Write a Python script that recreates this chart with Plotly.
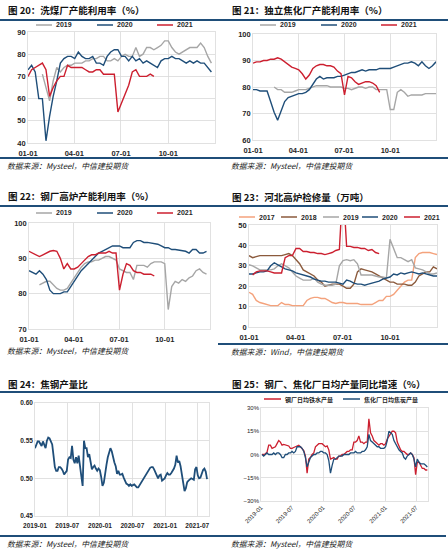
import pandas as pd
import plotly.graph_objects as go

W, H = 448, 550

# ------------------------------------------------------------------ data
# seasonal charts: weekly points placed on a common calendar year
season_weeks = pd.date_range("2021-01-01", periods=53, freq="7D")
season_tickvals = ["2021-01-01", "2021-04-01", "2021-07-01", "2021-10-01"]
season_ticktext = ["01-01", "04-01", "07-01", "10-01"]

# Fig 20 washing plant utilisation (%)
wash_2019 = [None] * 4 + [71, 65, 59, 68, 74, 72, 74, 75, 75, 76, 76, 76, 77, 77, 78, 78, 79, 79, 77, 77,
                          78, 77, 79, 80, 79, 79, 83, 79, 80, 83, 83, 82, 83, 84, 86, 86, 83, 81, 80, 81,
                          82, 83, 83, 83, 85, 83, 79, 76]
wash_2020 = [73, 75, 72, 60, 60, 41, 52, 61, 68, 76, 78, 79, 79, 78, 81, 79, 78, 78, 79, 76,
             76, 75, 79, 81, 82, 82, 79, 79, 77, 79, 77, 78, 76, 77, 76, 75, 74, 77, 78, 78,
             79, 78, 78, 77, 76, 77, 76, 77, 76, 76, 74, 72]
wash_2021 = [70, 73, 74, 75, 76, 73, 61, 65, 68, 70, 70, 75, 74, 74, 74, 74, 73, 72, 72, 73,
             73, 71, 71, 71, 71, 54, 58, 62, 66, 72, 73, 70, 70, 70, 71, 70]

# Fig 21 independent coking plant utilisation (%)
coke_2019 = [None] * 6 + [80, 79, 79, 78, 78, 78, 78.5, 79, 79, 79, 79.5, 80, 80.5, 80.5, 80.5, 80.5, 80, 80,
                          80, 80, 79.5, 79.5, 79, 79.5, 80, 80, 79.5, 80, 80, 79, 79, 79, 79, 71.5, 71.5, 78,
                          79, 78, 76.5, 77, 77, 77, 77, 77.5, 77.5, 77.5, 77.5]
coke_2020 = [79, 79, 78.5, 78.5, 78.5, 74.5, 70.5, 67.5, 71, 74.5, 76, 76.5, 77, 77.5, 77.5, 78, 79, 81, 83, 84,
             83, 83.5, 83.5, 83.5, 84, 84, 84.5, 85, 85.5, 85.5, 86, 86.5, 86, 86.5, 86.5, 86.5, 87, 87, 87, 87,
             87.5, 88, 88.5, 89, 89, 89.5, 89, 88, 89.5, 88, 87, 88, 89.5]
coke_2021 = [89, 89.5, 89.5, 90, 90, 90.5, 90.5, 91, 90.5, 89.5, 88.5, 87.5, 87, 86.5, 85, 83, 84.5, 87, 88, 88.5,
             88.5, 88, 88, 87.5, 86, 85, 77, 84, 83.5, 82, 81, 81.5, 82, 82, 81.5, 80.5, 78]

# Fig 22 steel mill blast furnace utilisation (%)
bf_2019 = [None] * 3 + [82.5, 83, 83.5, 83.5, 82.5, 81.5, 81, 81, 81.5, 83, 84.5, 86, 87.5, 88.5, 89, 89, 89.5,
                        89.5, 90, 90.5, 90.5, 90, 89.5, 87, 86.5, 86, 86, 84, 88, 88, 88, 87.5, 88.5, 89, 89,
                        89, 88.5, 75.5, 82, 83.5, 83, 84, 83.5, 84.5, 85, 86.5, 87, 86, 85.5]
bf_2020 = [86.5, 86, 85.5, 86.5, 85.5, 84, 81, 80, 80, 80, 80.5, 80.5, 82, 83.5, 85, 86.5, 87.5, 88.5, 89.5, 90.5,
           91.5, 92, 92.5, 93, 93.5, 93.5, 93.5, 93, 93, 93, 94.5, 95, 95, 94.5, 94.5, 94.3, 94, 94, 93.5, 93,
           93, 92.5, 92.5, 92.3, 92, 92, 91.5, 92.5, 92.5, 91.5, 91.5, 92]
bf_2021 = [92, 91.5, 91, 90.5, 91, 91.5, 92, 92.2, 92, 90, 87, 88.5, 87, 87, 87.5, 88.5, 89.5, 90.5, 91, 91,
           91.5, 91.5, 91.5, 92, 91.5, 91.5, 81, 85.5, 88.5, 88, 86.5, 86, 86, 85.5, 85.5, 85.5, 85]

# Fig 23 Hebei blast furnace maintenance (10k t)
hb_2017 = [17, 16, 13, 12, 11.5, 11, 10.5, 10.5, 10.5, 12, 11, 11, 10.5, 10.5, 10.5, 10.5, 13, 14, 14.5, 14.5,
           14, 14, 13, 12, 11.5, 12, 12, 11.5, 11.5, 11.5, 11.5, 11, 11, 11, 11, 12, 13, 13, 15, 15,
           16, 18, 20, 22, 23, 23, 34, 36, 36.5, 36.5, 36.5, 36, 35.5]
hb_2018 = [35, 34, 34.5, 35, 35, 35, 35, 35, 35, 35, 35.5, 36, 35, 33, 31, 28, 27, 26, 25, 23,
           22, 20, 20.5, 21, 21, 21, 20, 19, 19, 21, 27, 28.5, 28, 27.5, 27, 26, 25, 24, 23, 22,
           22, 21, 21, 21, 20.5, 20.5, 22, 25, 26, 27, 27, 29.5, 28.5]
hb_2019 = [30.5, 30, 29, 28, 28, 28, 28, 28.5, 30, 31, 30, 29, 27, 25, 24, 23, 23, 23, 24, 22,
           21, 20.5, 20.5, 20.5, 21, 30, 32.5, 33, 32.5, 33, 31, 25.5, 25.5, 25.5, 25.5, 25, 24.5, 24.5, 24, 43,
           38, 34, 34, 33, 32, 33, 29, 28.5, 28, 27, 26, 26, 26.5]
hb_2020 = [26, 26, 26.5, 27, 27, 27.5, 30, 31.5, 30.5, 29.5, 28.5, 28, 27.5, 26.5, 26, 25.5, 25, 24.5, 23.5, 23,
           22.5, 22.5, 22, 22, 22, 21.5, 21, 23, 22.5, 21.5, 21, 21, 20.5, 21, 21.5, 22, 22.5, 23.5, 24, 24.5,
           26, 25.5, 26.5, 26, 26.5, 27, 26.5, 26, 26.5, 26, 25.5, 25, 25]
hb_2021 = [None] + [25.5, 27, 27.5, 27.5, 27.5, 27, 26.5, 26.5, 26.5, 34, 35, 35, 38.5, 38.5, 37, 37, 36.5, 36.5, 36, 36,
                    35.5, 36, 36.5, 37.5, 38, 70, 39.5, 39.5, 39, 39, 38.5, 38.5, 37.5, 38, 36.5, 36]

# Fig 24 coke / steel output ratio (weekly, 2019-01 .. 2021-08)
ratio_start, ratio_end = "2019-01-01", "2021-08-25"
ratio = [0.540, 0.545, 0.549, 0.549, 0.546, 0.543, 0.549, 0.545, 0.540, 0.550,
         0.554, 0.553, 0.549, 0.545, 0.530, 0.515, 0.510, 0.510, 0.515, 0.515,
         0.513, 0.510, 0.505, 0.507, 0.510, 0.525, 0.528, 0.527, 0.543, 0.525,
         0.520, 0.528, 0.520, 0.530, 0.512, 0.503, 0.490, 0.550, 0.540, 0.540,
         0.528, 0.532, 0.522, 0.512, 0.515, 0.517, 0.513, 0.510, 0.513, 0.511,
         0.502, 0.490, 0.494, 0.508, 0.518, 0.528, 0.535, 0.540, 0.536, 0.527,
         0.521, 0.516, 0.506, 0.510, 0.505, 0.505, 0.506, 0.501, 0.496, 0.493,
         0.492, 0.490, 0.492, 0.490, 0.491, 0.492, 0.490, 0.488, 0.488, 0.491,
         0.494, 0.497, 0.500, 0.502, 0.505, 0.508, 0.511, 0.514, 0.515, 0.515,
         0.512, 0.508, 0.505, 0.500, 0.504, 0.505, 0.497, 0.499, 0.500, 0.504,
         0.507, 0.505, 0.505, 0.507, 0.510, 0.513, 0.518, 0.530, 0.521, 0.523,
         0.516, 0.503, 0.490, 0.483, 0.487, 0.495, 0.497, 0.499, 0.500, 0.499,
         0.498, 0.512, 0.515, 0.504, 0.500, 0.501, 0.506, 0.511, 0.513, 0.509,
         0.499]

# Fig 25 YoY growth of daily output (%)
yoy_start, yoy_end = "2019-01-07", "2021-09-05"
yoy_hot_metal = [0, 0, 0.5, 1.5, 6, 6, 4, 4.5, 5, 7, 9, 8, 6, 6.5, 6, 5.5, 5.5, 4, 4, 4.5,
                 5, 6, 6, 5, 3.5, 2.5, -1, -12, -3, -2, 0, 1, 5, 6, 7, 7, 7, 6, 5, 5.5,
                 3, -3, -2.5, -2, -3, -3, -1, -1, 0, 0, 1, 2, 2, 3, 3, 8, 8, 9, 12, 8,
                 8, 7, 8, 8, 23, 14, 12, 9, 8, 7, 6, 7, 7, 6, 7, 10, 12, 14, 15, 15,
                 14, 8, 5, 3, 2, 2, 1, 0, 0, 1, 0, -2, -13, -5, -5, -7, -9, -9, -10, -10]
yoy_coke = [0, -1, 0, 1, 0, 0, 0, 1, 0, 1, 1, 0, -2, -2, 0, 0, 1, 1, 2, 1,
            2, 5, 5, 5, 4, 2, -2, -8, -5, -2, -1, 0, 0, 1, 1, 2, 2, 1, 1, 0,
            -4, -12, -7, -3, -3, -2, -1, -1, -1, 0, 0, 0, 0, 1, 1, 1, 2, 1, 1, 1,
            2, 2, 3, 5, 13, 9, 8, 7, 6, 5, 5, 4, 4, 4, 5, 9, 15, 14, 13, 9,
            7, 4, 3, 2, 1, -2, -3, -1, 0, 1, 0, -3, -8, -3, -5, -6, -6, -6, -7, -8]
multi_tickvals = ["2019-01-01", "2019-07-01", "2020-01-01", "2020-07-01", "2021-01-01", "2021-07-01"]
multi_ticktext = ["2019-01", "2019-07", "2020-01", "2020-07", "2021-01", "2021-07"]

# ------------------------------------------------------------------ style
GRAY, NAVY, RED = "#A6A6A6", "#1F4E79", "#CC1F2F"
SALMON, BROWN = "#F4A27C", "#8B5A3C"
GRID = "#D9D9D9"
BAR = "#1F4E79"
LAT = "Liberation Sans, Arial, sans-serif"
CJK = "Noto Sans CJK SC, sans-serif"


def PX(x):
    return x / W


def PY(y):
    return 1 - y / H


fig = go.Figure()
shapes, annotations = [], []


def add(xs, ys, color, ax, width=1.4):
    fig.add_trace(go.Scatter(x=list(xs[:len(ys)]), y=ys, mode="lines",
                             line=dict(color=color, width=width), xaxis="x" + ax, yaxis="y" + ax,
                             showlegend=False, connectgaps=False, hoverinfo="skip"))


add(season_weeks, wash_2019, GRAY, "")
add(season_weeks, wash_2020, NAVY, "")
add(season_weeks, wash_2021, RED, "")
add(season_weeks, coke_2019, GRAY, "2")
add(season_weeks, coke_2020, NAVY, "2")
add(season_weeks, coke_2021, RED, "2")
add(season_weeks, bf_2019, GRAY, "3")
add(season_weeks, bf_2020, NAVY, "3")
add(season_weeks, bf_2021, RED, "3")
add(season_weeks, hb_2017, SALMON, "4")
add(season_weeks, hb_2018, BROWN, "4")
add(season_weeks, hb_2019, GRAY, "4")
add(season_weeks, hb_2020, NAVY, "4")
add(season_weeks, hb_2021, RED, "4")
add(pd.date_range(ratio_start, ratio_end, periods=len(ratio)), ratio, NAVY, "5", width=1.8)
yoy_dates = pd.date_range(yoy_start, yoy_end, periods=len(yoy_hot_metal))
add(yoy_dates, yoy_hot_metal, RED, "6", width=1.3)
add(yoy_dates, yoy_coke, NAVY, "6", width=1.3)

# ------------------------------------------------------------------ axes
boxes = [((28, 215), (32, 143)), ((253, 436), (34, 140)), ((29, 210), (223, 329)),
         ((249, 437), (225, 327)), ((35, 209), (403, 516)), ((261, 428), (408, 501))]


def axis(dom, size, **kw):
    d = dict(domain=dom, showgrid=True, gridcolor=GRID, gridwidth=0.8, showline=True,
             linecolor=GRID, linewidth=0.8, mirror=True, zeroline=False, ticks="",
             tickfont=dict(family=LAT, size=size, color="#262626", weight="bold"),
             automargin=False, fixedrange=True)
    d.update(kw)
    return d


layout = {}
names = ["", "2", "3", "4", "5", "6"]
yspec = [dict(range=[40, 90], dtick=10), dict(range=[60, 100], dtick=10),
         dict(range=[70, 100], dtick=10), dict(range=[0, 50], dtick=10),
         dict(range=[0.45, 0.60], dtick=0.05, tickformat=".2f"),
         dict(range=[-30, 30], dtick=15, ticksuffix="%")]
for i, n in enumerate(names):
    (x0, x1), (y0, y1) = boxes[i]
    fs = 7.5 if i < 4 else (6.5 if i == 4 else 6)
    if i < 4:
        xs = dict(range=["2021-01-01", "2021-12-31"], tickmode="array",
                  tickvals=season_tickvals, ticktext=season_ticktext, ticklabelstandoff=3)
    elif i == 4:
        xs = dict(range=["2019-01-01", "2021-09-05"], tickmode="array",
                  tickvals=multi_tickvals, ticktext=multi_ticktext, ticklabelstandoff=3)
    else:
        xs = dict(range=["2019-01-01", "2021-09-09"], tickmode="array",
                  tickvals=multi_tickvals, ticktext=multi_ticktext, tickangle=-45)
    layout["xaxis" + n] = axis([PX(x0), PX(x1)], fs, type="date", anchor="y" + n, **xs)
    layout["yaxis" + n] = axis([PY(y1), PY(y0)], fs, anchor="x" + n, **yspec[i])
layout["xaxis6"]["tickfont"]["weight"] = "normal"
layout["yaxis6"]["tickfont"]["weight"] = "normal"

# ------------------------------------------------------------------ decorations
for (y, xa, xb) in [(20, 0, 448), (158, 0, 448), (206, 0, 448), (344, 218, 448),
                    (392, 0, 448), (536, 0, 446)]:
    shapes.append(dict(type="line", xref="paper", yref="paper", x0=PX(xa), x1=PX(xb),
                       y0=PY(y), y1=PY(y), line=dict(color=BAR, width=2)))

titles = [(6, 10, "图 20：洗煤厂产能利用率（%）"), (230, 10, "图 21：独立焦化厂产能利用率（%）"),
          (6, 196, "图 22：钢厂高炉产能利用率（%）"), (230, 197, "图 23：河北高炉检修量（万吨）"),
          (6, 384, "图 24：焦钢产量比"), (230, 384, "图 25：钢厂、焦化厂日均产量同比增速（%）")]
for x, y, t in titles:
    annotations.append(dict(text=t, x=PX(x), y=PY(y), xref="paper", yref="paper", xanchor="left",
                            yanchor="middle", showarrow=False,
                            font=dict(family=CJK, size=9.5, color="#111111", weight="bold")))

sources = [(6, 165, "数据来源：Mysteel，中信建投期货"), (230, 165, "数据来源：Mysteel，中信建投期货"),
           (6, 350, "数据来源：Mysteel，中信建投期货"), (230, 351, "数据来源：Wind，中信建投期货"),
           (6, 543, "数据来源：Mysteel，中信建投期货"), (230, 543, "数据来源：Mysteel，中信建投期货")]
for x, y, t in sources:
    annotations.append(dict(text=t, x=PX(x), y=PY(y), xref="paper", yref="paper", xanchor="left",
                            yanchor="middle", showarrow=False, borderpad=0,
                            font=dict(family=CJK, size=7.8, color="#222222", style="italic")))


def legend_entry(x, y, color, label, size=7, family=LAT, length=16):
    shapes.append(dict(type="line", xref="paper", yref="paper", x0=PX(x), x1=PX(x + length),
                       y0=PY(y), y1=PY(y), line=dict(color=color, width=1.5)))
    annotations.append(dict(text=label, x=PX(x + length + 2), y=PY(y), xref="paper", yref="paper",
                            xanchor="left", yanchor="middle", showarrow=False,
                            font=dict(family=family, size=size, color="#262626", weight="bold")))


for base_x, y in [(0, 25), (224, 25), (0, 213)]:
    legend_entry(base_x + 36, y, GRAY, "2019")
    legend_entry(base_x + 97, y, NAVY, "2020")
    legend_entry(base_x + 157, y, RED, "2021")
for x, c, t in [(239, SALMON, "2017"), (281, BROWN, "2018"), (323, GRAY, "2019"),
                (362, NAVY, "2020"), (404, RED, "2021")]:
    legend_entry(x, 217, c, t)
legend_entry(264, 399, RED, "钢厂日均铁水产量", size=6, family=CJK, length=17)
legend_entry(343, 399, NAVY, "焦化厂日均焦炭产量", size=6, family=CJK, length=17)

fig.update_layout(width=W, height=H, autosize=False, margin=dict(l=0, r=0, t=0, b=0),
                  paper_bgcolor="white", plot_bgcolor="white", showlegend=False,
                  shapes=shapes, annotations=annotations, **layout)
fig.write_html("out.html", config={"displayModeBar": False, "staticPlot": True},
               post_script="document.body.style.margin='0';")
